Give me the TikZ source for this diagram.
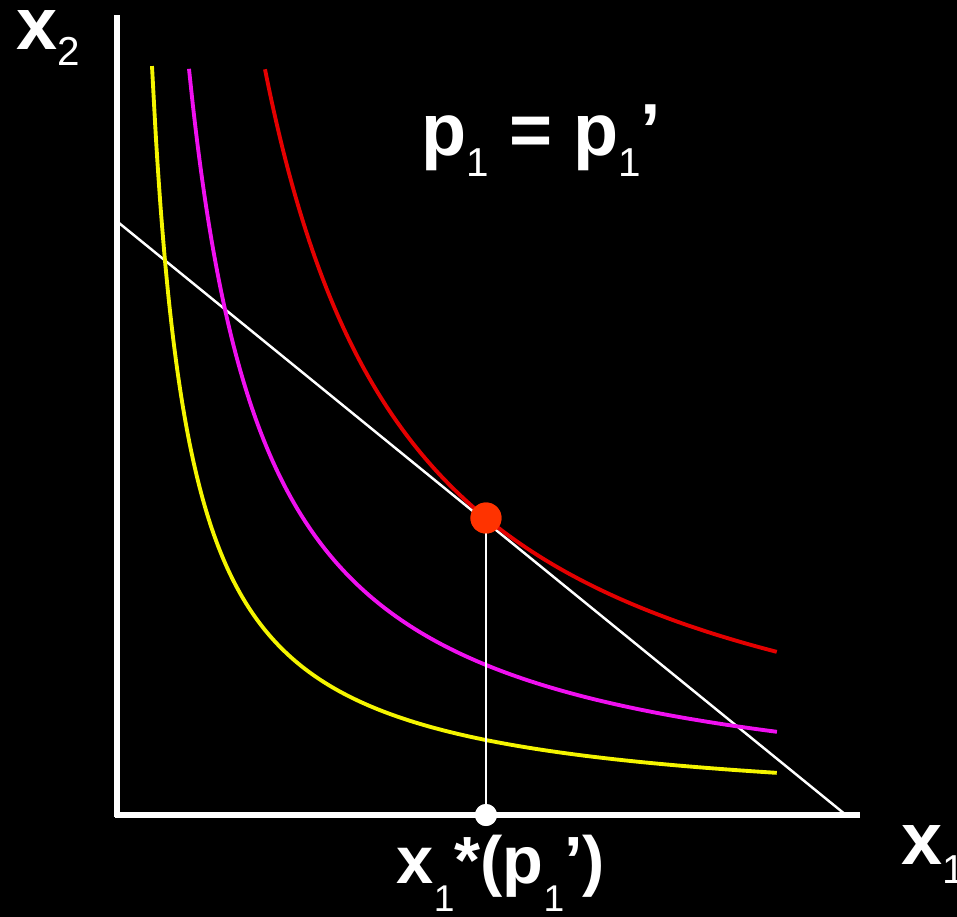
\documentclass[tikz,border=0pt]{standalone}
\usepackage{fontspec}
\setmainfont{Liberation Sans}
\newcommand{\lsub}[2][0.3em]{\raisebox{-#1}{\fontsize{11.5}{11.5}\selectfont\mdseries #2}}
\newcommand{\lsubsm}[2][0.43em]{\raisebox{-#1}{\fontsize{10.6}{10.6}\selectfont\mdseries #2}}
\definecolor{curvered}{HTML}{E40000}
\definecolor{curvemag}{HTML}{F010F0}
\definecolor{curveyel}{HTML}{F5F500}
\definecolor{dotred}{HTML}{FF3300}
\begin{document}
\begin{tikzpicture}[x=1cm,y=-1cm,
  lbl/.style={text=white,font=\fontsize{21}{21}\selectfont\bfseries,inner sep=0pt,anchor=base west},
  lblsm/.style={lbl,font=\fontsize{19}{19}\selectfont\bfseries},
  axisline/.style={white,line width=1.5pt},
  budget/.style={white,line width=0.7pt},
  icurve/.style={line width=1.1pt,smooth},
  optdot/.style={circle,fill=dotred,inner sep=0pt,minimum size=0.31cm},
  basedot/.style={circle,fill=white,inner sep=0pt,minimum size=0.22cm}]
\fill[black] (0,0) rectangle (9.57,9.17);
\useasboundingbox (0,0) rectangle (9.57,9.17);
% axes
\coordinate (ytop) at (1.17,0.15);
\coordinate (orig) at (1.17,8.15);
\coordinate (xend) at (8.60,8.15);
\draw[axisline] (ytop) -- (1.17,8.17);
\draw[axisline] (1.15,8.15) -- (xend);
% budget line
\coordinate (bA) at (1.19,2.23);
\coordinate (bB) at (8.46,8.15);
\draw[budget] (bA) -- (bB);
% indifference curves
\draw[icurve,curveyel] plot[domain=1.52:7.77,samples=150] (\x,{8.147-2.77/(\x-1.15)});
\draw[icurve,curvemag] plot[domain=1.89:7.77,samples=150] (\x,{8.175-5.69/(\x-1.13)});
\draw[icurve,curvered] plot[domain=2.65:7.77,samples=150] (\x,{8.226-11.3/(\x-1.15)});
% optimum
\node[optdot] (opt) at (4.86,5.18) {};
\node[basedot] (base) at (4.86,8.15) {};
\draw[budget] (opt.center) -- (base.center);
\node[optdot] at (opt) {};
\node[basedot] at (base) {};
% labels
\node[lbl] (lx2) at (0.16,0.49) {x\lsub[0.22em]{2}};
\node[lbl] (lp) at (4.21,1.55) {p\lsub[0.29em]{1} = p\lsub[0.29em]{1}’};
\node[lblsm] (lx1s) at (3.96,8.83) {x\lsubsm{1}*(p\lsubsm{1}’)};
\node[lbl] (lx1) at (9.01,8.64) {x\lsub[0.26em]{1}};
\end{tikzpicture}
\end{document}
